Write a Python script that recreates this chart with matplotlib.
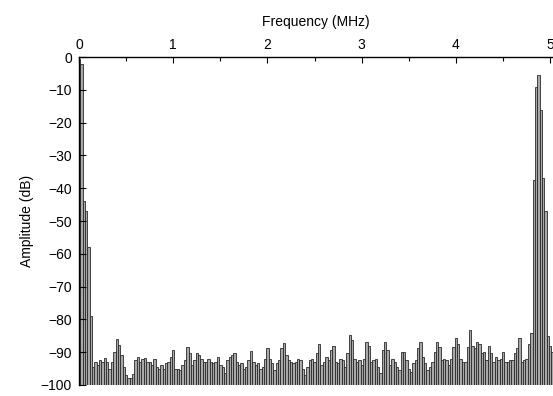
import numpy as np
import matplotlib
matplotlib.use("Agg")
import matplotlib.pyplot as plt

plt.rcParams['font.family'] = ['Liberation Sans', 'DejaVu Sans']

# spectrum, one line every 0.025 MHz starting at 0
step_mhz = 0.025
amp_low = [-0.5, -2, -44, -47, -58, -79,
           -94.5, -93, -94, -92.4, -93, -91.8, -93, -95, -93, -90, -86, -87.8,
           -91, -94.5, -97, -98, -98, -96.5, -92.4, -91.4, -93, -92, -91.8,
           -93, -93, -94, -92, -94.5]
amp_b = [-95.2, -94, -95, -93.4, -93, -91.4, -89.3, -95, -95, -95.5, -94,
         -92.4, -88.3, -90.3, -94, -92.4, -90.3, -90.8, -92, -93, -93, -92,
         -93, -93.4, -93, -91.6, -94, -94.5, -96.4, -92.4, -91.6, -91, -90.3]
amp_c = [-93, -94, -93.4, -95, -94.5, -92.4, -89.6, -93, -94, -93.4, -95,
         -94.5, -92, -88.7, -92, -93.4, -95.5, -93.4, -92.4, -88.7, -87.2,
         -90.8, -92.4, -93, -93.4, -93, -92, -92.4, -95, -97, -94.5, -92.4,
         -92, -93]
amp_d = [-90.3, -87.4, -94, -93, -91.6, -92.4, -89.3, -88, -93, -93.4, -92,
         -92.4, -94.5, -90.3, -84.8, -86.3, -92, -93, -92.4, -94, -92, -86.9,
         -88, -93, -92.4, -92, -94.5, -96.4, -89.3, -86.9, -89.3, -94, -92,
         -93]
amp_e = [-94.5, -95.5, -89.8, -89.8, -92.4, -95, -96, -93.4, -92.4, -88.7,
         -86.9, -91.4, -93.4, -95.5, -94.5, -93, -89.8, -86.9, -88.3, -92.4,
         -92, -92.4, -94, -92, -88.3, -85.7, -87.4, -92, -93, -93, -88.3,
         -83.2, -88, -88.7]
amp_high = [-86.9, -87.4, -90.3, -89.8, -92.4, -88, -90.3, -93, -91.4, -92.4,
            -92, -89.8, -93, -93, -92.4, -92.4, -90.3, -88.7, -85.7, -93,
            -92.4, -92, -87.4, -84,
            -37.5, -9, -5.5, -16, -37, -47, -85, -88, -90]

amps = np.array(amp_low + amp_b + amp_c + amp_d + amp_e + amp_high)
freqs = np.arange(len(amps)) * step_mhz
floor_db = -100

fig = plt.figure(figsize=(5.53, 3.96), dpi=100)
ax = fig.add_axes([0.1429, 0.0278, 0.8571, 0.828])

ax.bar(freqs, amps - floor_db, bottom=floor_db, width=step_mhz,
       color='#a8a8a8', edgecolor='#2a2a2a', linewidth=0.6, align='center')

ax.set_xlim(0, 5.03)
ax.set_ylim(-100, 0)
ax.xaxis.tick_top()
ax.xaxis.set_label_position('top')
ax.set_xticks([0, 1, 2, 3, 4, 5])
ax.set_xticks(np.arange(0.5, 5, 1.0), minor=True)
ax.set_yticks(np.arange(-100, 1, 10))
ax.set_yticklabels([str(v).replace('-', '\u2212') for v in range(-100, 1, 10)])
ax.tick_params(axis='x', which='major', direction='in', length=4, width=0.8,
               labelsize=10, pad=4)
ax.tick_params(axis='x', which='minor', direction='in', length=3, width=0.8)
ax.tick_params(axis='y', direction='in', length=5, width=0.8, labelsize=10,
               pad=5)
for side in ['right', 'bottom']:
    ax.spines[side].set_visible(False)
for side in ['left', 'top']:
    ax.spines[side].set_linewidth(1.0)

ax.set_xlabel('Frequency (MHz)', fontsize=10, labelpad=8)
ax.set_ylabel('Amplitude (dB)', fontsize=10, labelpad=5)

fig.savefig('out.png', dpi=100)
